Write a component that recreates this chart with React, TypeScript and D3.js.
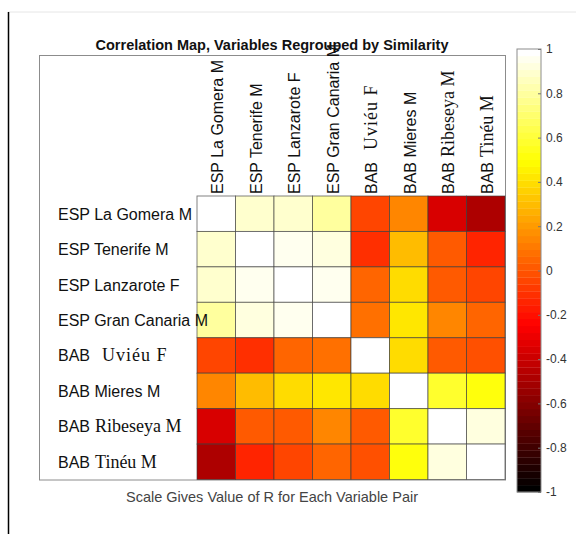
import * as React from "react";
import * as d3 from "d3";

// labels: prefix in sans, place name in sans or serif
const prefixes = ["ESP", "ESP", "ESP", "ESP", "BAB", "BAB", "BAB", "BAB"];
const places = ["La Gomera M", "Tenerife M", "Lanzarote F", "Gran Canaria M", "Uviéu F", "Mieres M", "Ribeseya M", "Tinéu M"];
const serifPlace = [false, false, false, false, true, false, true, true];

// correlation rows (R values)
const rLaGomera = [1, 0.88, 0.9, 0.8, -0.06, 0.125, -0.375, -0.48];
const rTenerife = [0.88, 1, 0.95, 0.92, -0.11, 0.29, 0.0, -0.13];
const rLanzarote = [0.9, 0.95, 1, 0.95, 0.06, 0.38, 0.01, -0.06];
const rGranCanaria = [0.8, 0.92, 0.95, 1, 0.07, 0.41, 0.14, 0.06];
const rUvieu = [-0.06, -0.11, 0.06, 0.07, 1, 0.4, 0.0, -0.03];
const rMieres = [0.125, 0.29, 0.38, 0.41, 0.4, 1, 0.59, 0.52];
const rRibeseya = [-0.375, 0.0, 0.01, 0.14, 0.0, 0.59, 1, 0.92];
const rTineu = [-0.48, -0.13, -0.06, 0.06, -0.03, 0.52, 0.92, 1];

const colorTicks = [-1, -0.8, -0.6, -0.4, -0.2, 0, 0.2, 0.4, 0.6, 0.8, 1];

const title = "Correlation Map, Variables Regrouped by Similarity";
const caption = "Scale Gives Value of R for Each Variable Pair";

// matlab "hot"
function hot(t: number) {
  const r = Math.min(1, t / 0.375);
  const g = Math.max(0, Math.min(1, (t - 0.375) / 0.375));
  const b = Math.max(0, Math.min(1, (t - 0.75) / 0.25));
  return d3.rgb(r * 255, g * 255, b * 255).formatHex();
}

const levels = d3.range(64).map((i) => hot(i / 63));

function drawChart(svgRef: React.RefObject<SVGSVGElement | null>) {
  const svg = d3.select(svgRef.current);
  svg.selectAll("*").remove();

  const matrix = [rLaGomera, rTenerife, rLanzarote, rGranCanaria, rUvieu, rMieres, rRibeseya, rTineu];
  const cells = matrix.flatMap((row, i) => row.map((v, j) => ({ i, j, v })));

  const color = d3.scaleQuantize<string>().domain([-1, 1]).range(levels);

  const x = d3.scaleBand<number>().domain(d3.range(8)).range([197, 505]);
  const y = d3.scaleBand<number>().domain(d3.range(8)).range([196, 479.5]);

  const sans = "Arial, 'Liberation Sans', sans-serif";
  const serif = "'Times New Roman', 'Liberation Serif', serif";
  const sansSize = 16;
  const serifSize = 18;

  // page frame lines
  svg.append("line").attr("x1", 8).attr("x2", 576).attr("y1", 12).attr("y2", 12)
    .attr("stroke", "#e6e6e6");
  svg.append("line").attr("x1", 8.5).attr("x2", 8.5).attr("y1", 12).attr("y2", 534)
    .attr("stroke", "#000").attr("stroke-width", 1.5);

  // axes box
  svg.append("rect").attr("x", 39.5).attr("y", 55.5).attr("width", 466).attr("height", 424.5)
    .attr("fill", "#fff").attr("stroke", "#8c8c8c").attr("stroke-width", 1);

  svg.append("g")
    .selectAll("rect")
    .data(cells)
    .join("rect")
    .attr("x", (d) => x(d.j)!)
    .attr("y", (d) => y(d.i)!)
    .attr("width", x.bandwidth())
    .attr("height", y.bandwidth())
    .attr("fill", (d) => color(d.v))
    .attr("stroke", "#3a3a3a")
    .attr("stroke-opacity", 0.7)
    .attr("stroke-width", 0.9);

  // row labels
  const rows = svg.append("g")
    .selectAll("text")
    .data(places)
    .join("text")
    .attr("x", 58)
    .attr("y", (_d, i) => y(i)! + y.bandwidth() / 2)
    .attr("dominant-baseline", "central")
    .attr("fill", "#111");
  rows.append("tspan").attr("font-family", sans).attr("font-size", sansSize)
    .text((_d, i) => prefixes[i] + (serifPlace[i] ? "" : " "));
  rows.append("tspan")
    .attr("font-family", (_d, i) => (serifPlace[i] ? serif : sans))
    .attr("font-size", (_d, i) => (serifPlace[i] ? serifSize : sansSize))
    .attr("dx", (_d, i) => (serifPlace[i] ? (i === 4 ? 12 : 5) : 0))
    .attr("letter-spacing", (_d, i) => (i === 4 ? 1 : 0))
    .text((d) => d);

  // column labels
  const cols = svg.append("g")
    .selectAll("text")
    .data(places)
    .join("text")
    .attr("transform", (_d, j) => `translate(${x(j)! + x.bandwidth() / 2 + 1},194) rotate(-90)`)
    .attr("dominant-baseline", "central")
    .attr("fill", "#111");
  cols.append("tspan").attr("font-family", sans).attr("font-size", sansSize)
    .text((_d, i) => prefixes[i] + (serifPlace[i] ? "" : " "));
  cols.append("tspan")
    .attr("font-family", (_d, i) => (serifPlace[i] ? serif : sans))
    .attr("font-size", (_d, i) => (serifPlace[i] ? serifSize : sansSize))
    .attr("dx", (_d, i) => (serifPlace[i] ? (i === 4 ? 12 : 5) : 0))
    .attr("letter-spacing", (_d, i) => (i === 4 ? 1 : 0))
    .text((d) => d);

  // title and caption
  svg.append("text").attr("x", 272).attr("y", 50).attr("text-anchor", "middle")
    .attr("font-family", sans).attr("font-weight", "bold").attr("font-size", 14.5)
    .attr("fill", "#111").text(title);
  svg.append("text").attr("x", 272).attr("y", 502).attr("text-anchor", "middle")
    .attr("font-family", sans).attr("font-size", 14.5)
    .attr("fill", "#444").text(caption);

  // colorbar
  const cb = d3.scaleLinear().domain([-1, 1]).range([492, 49]);
  const step = 2 / levels.length;
  const cbg = svg.append("g");
  cbg.selectAll("rect")
    .data(levels)
    .join("rect")
    .attr("x", 517)
    .attr("width", 24)
    .attr("y", (_c, k) => cb(-1 + (k + 1) * step))
    .attr("height", (_c, k) => cb(-1 + k * step) - cb(-1 + (k + 1) * step) + 0.3)
    .attr("fill", (c) => c);
  cbg.append("rect").attr("x", 517).attr("y", 49).attr("width", 24).attr("height", 443)
    .attr("fill", "none").attr("stroke", "#8c8c8c");

  const axis = d3.axisRight(cb).tickValues(colorTicks).tickSize(0).tickPadding(5)
    .tickFormat((d) => String(+d));
  const ax = cbg.append("g").attr("transform", "translate(541,0)").call(axis);
  ax.select(".domain").remove();
  ax.selectAll("text").attr("font-family", sans).attr("font-size", 12).attr("fill", "#333");
  ax.selectAll(".tick").append("line").attr("x1", -3).attr("x2", 0).attr("stroke", "#777");
}

const App = () => {
  const svgRef = React.useRef<SVGSVGElement | null>(null);

  React.useEffect(() => {
    drawChart(svgRef);
  }, [svgRef]);

  return (
    <svg
      ref={svgRef}
      width={576}
      height={534}
      style={{ position: "absolute", left: 0, top: 0, background: "#fff" }}
    />
  );
};

export default App;
